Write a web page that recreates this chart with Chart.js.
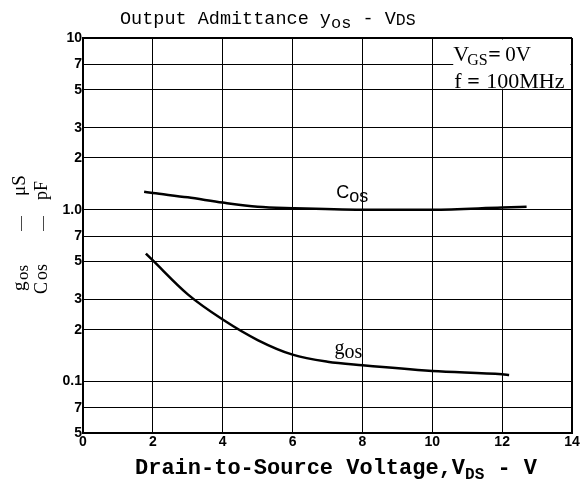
<!DOCTYPE html>
<html>
<head>
<meta charset="utf-8">
<script src="https://cdn.jsdelivr.net/npm/chart.js"></script>
<style>
  body { margin: 0; background: #fff; }
  canvas { display: block; }
</style>
</head>
<body>
<canvas id="myChart" width="583" height="488"></canvas>
<script>
  // Cos curve, pF
  const cosVds = [1.75, 2, 3, 4, 5, 6, 8, 10, 12, 12.7];
  const cosValues = [1.27, 1.25, 1.18, 1.1, 1.04, 1.02, 1.0, 1.0, 1.03, 1.04];
  // gos curve, uS
  const gosVds = [1.8, 2, 3, 4, 5, 6, 7, 8, 10, 12, 12.2];
  const gosValues = [0.555, 0.506, 0.321, 0.229, 0.174, 0.143, 0.13, 0.124, 0.115, 0.11, 0.109];

  const yTicks = [0.05, 0.07, 0.1, 0.2, 0.3, 0.5, 0.7, 1, 2, 3, 5, 7, 10];
  const yTickLabels = ['5', '7', '0.1', '2', '3', '5', '7', '1.0', '2', '3', '5', '7', '10'];

  const mono = '"Liberation Mono", monospace';
  const serif = '"Liberation Serif", serif';

  function subText(ctx, main, sub, x, y, size, subSize, font) {
    ctx.font = size + 'px ' + font;
    ctx.fillText(main, x, y);
    let w = ctx.measureText(main).width;
    ctx.font = subSize + 'px ' + font;
    ctx.fillText(sub, x + w, y + size * 0.2);
    return w + ctx.measureText(sub).width;
  }

  // rotated text: y0 is where the text starts (bottom), runs upward
  function upText(ctx, text, xBase, y0, font) {
    ctx.save();
    ctx.translate(xBase, 0);
    ctx.rotate(-Math.PI / 2);
    ctx.font = font;
    ctx.fillText(text, -y0, 0);
    ctx.restore();
  }

  const annotations = {
    id: 'annotations',
    afterDraw(chart) {
      const ctx = chart.ctx;
      const xs = chart.scales.x, ys = chart.scales.y;
      const area = chart.chartArea;
      ctx.save();
      ctx.textBaseline = 'alphabetic';
      ctx.textAlign = 'left';

      // condition box
      const bx = xs.getPixelForValue(10.6);
      const by = ys.getPixelForValue(5);
      ctx.fillStyle = '#fff';
      ctx.fillRect(bx, area.top + 1.5, area.right - bx - 1.5, by - area.top - 2.5);
      ctx.fillStyle = '#000';
      ctx.font = '22px ' + serif;
      ctx.fillText('V', bx, 61);
      ctx.font = '16px ' + serif;
      ctx.fillText('GS', bx + 14, 65);
      ctx.font = 'bold 22px ' + serif;
      ctx.fillText('=', bx + 35, 61);
      ctx.font = '21px ' + serif;
      ctx.fillText('0V', bx + 52, 61);
      ctx.font = '22px ' + serif;
      ctx.fillText('f', bx + 1, 88);
      ctx.font = 'bold 22px ' + serif;
      ctx.fillText('=', bx + 14, 88);
      ctx.font = '22px ' + serif;
      ctx.fillText('100MHz', bx + 33, 88);

      // title
      let x = 120;
      let w = subText(ctx, 'Output Admittance y', 'os', x, 24, 18.5, 17, mono);
      ctx.font = '18.5px ' + mono;
      ctx.fillText(' - V', x + w, 24);
      w += ctx.measureText(' - V').width;
      ctx.font = '16.5px ' + mono;
      ctx.fillText('DS', x + w, 25);

      // x axis title
      x = 135;
      const bmono = 'bold 22px ' + mono;
      ctx.font = bmono;
      const part1 = 'Drain-to-Source Voltage,V';
      ctx.fillText(part1, x, 474);
      w = ctx.measureText(part1).width;
      ctx.font = 'bold 16px ' + mono;
      ctx.fillText('DS', x + w, 479);
      w += ctx.measureText('DS').width;
      ctx.font = bmono;
      ctx.fillText(' - V', x + w, 474);

      // y axis title, two rotated lines
      upText(ctx, 'g', 25, 291, '19px ' + serif);
      upText(ctx, 'os', 28, 280, '17px ' + serif);
      upText(ctx, '\u2014', 25, 231, '15px ' + serif);
      upText(ctx, '\u03bcS', 25, 196, '19px ' + serif);
      upText(ctx, 'C', 47, 294, '18px ' + serif);
      upText(ctx, 'os', 47, 280, '18px ' + serif);
      upText(ctx, '\u2014', 47, 231, '15px ' + serif);
      upText(ctx, 'pF', 47, 200, '18px ' + serif);

      // curve labels
      subText(ctx, 'C', 'os', xs.getPixelForValue(7.25), ys.getPixelForValue(1.17), 18, 18, '"Liberation Sans", sans-serif');
      subText(ctx, 'g', 'os', xs.getPixelForValue(7.2), ys.getPixelForValue(0.144), 20, 20, serif);
      ctx.restore();
    }
  };

  const data = {
    datasets: [
      {
        label: 'Cos',
        data: cosVds.map((v, i) => ({ x: v, y: cosValues[i] })),
        borderColor: '#000',
        borderWidth: 2.5,
        pointRadius: 0,
        cubicInterpolationMode: 'monotone',
      },
      {
        label: 'gos',
        data: gosVds.map((v, i) => ({ x: v, y: gosValues[i] })),
        borderColor: '#000',
        borderWidth: 2.5,
        pointRadius: 0,
        cubicInterpolationMode: 'monotone',
      },
    ],
  };

  const tickFont = { family: '"Liberation Sans", sans-serif', size: 14, weight: 'bold' };

  const config = {
    type: 'line',
    data: data,
    options: {
      responsive: false,
      animation: false,
      layout: { padding: { top: 38, right: 11, left: 0, bottom: 0 } },
      plugins: {
        legend: { display: false },
        title: { display: false },
        tooltip: { enabled: false },
      },
      scales: {
        x: {
          type: 'linear',
          min: 0,
          max: 14,
          ticks: { stepSize: 2, color: '#000', font: tickFont, padding: 1 },
          grid: {
            color: '#000',
            lineWidth: (c) => (c.tick && c.tick.value === 14 ? 2 : 1),
            drawTicks: false,
          },
          border: { color: '#000', width: 2 },
          afterFit: (s) => { s.height = 55; },
        },
        y: {
          type: 'logarithmic',
          min: 0.05,
          max: 10,
          afterBuildTicks: (s) => { s.ticks = yTicks.map((v) => ({ value: v })); },
          ticks: {
            autoSkip: false,
            color: '#000',
            font: tickFont,
            padding: 1,
            callback: (v, i) => yTickLabels[i],
          },
          grid: {
            color: '#000',
            lineWidth: (c) => (c.tick && c.tick.value === 10 ? 2 : 1),
            drawTicks: false,
          },
          border: { color: '#000', width: 2 },
          afterFit: (s) => { s.width = 83; },
        },
      },
    },
    plugins: [annotations],
  };

  var myChart = new Chart(document.getElementById('myChart'), config);
</script>
</body>
</html>
